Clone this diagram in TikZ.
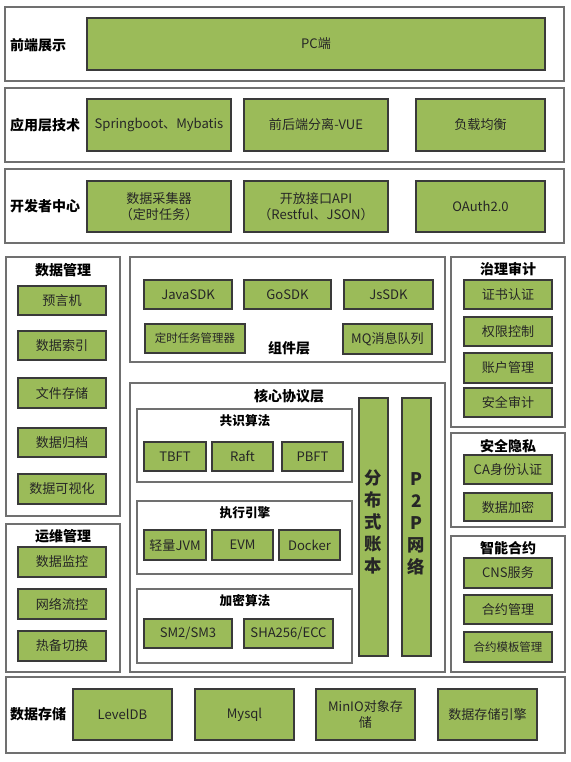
\documentclass[tikz,border=0pt]{standalone}
\usepackage{fontspec}
\setmainfont{Noto Sans CJK SC}
\definecolor{boxgreen}{HTML}{9BBB59}
\definecolor{framegray}{HTML}{707070}
\definecolor{boxline}{HTML}{3A3A3A}
\definecolor{txt}{HTML}{262626}
\newcommand{\gbx}[6]{\node[gbox,minimum width={(#4-#2)*0.75pt},minimum height={(#5-#3)*0.75pt}] (#1) at ({(#2+#4)/2},{(#3+#5)/2}) {#6};}
\newcommand{\frm}[5]{\node[frbox,minimum width={(#4-#2)*0.75pt},minimum height={(#5-#3)*0.75pt}] (#1) at ({(#2+#4)/2},{(#3+#5)/2}) {};}
\begin{document}
\begin{tikzpicture}[x=0.75pt,y=-0.75pt,
  gbox/.style={draw=boxline,fill=boxgreen,line width=0.8pt,inner sep=1pt,align=center,text=txt,font=\fontsize{9.8}{12}\selectfont},
  frbox/.style={draw=framegray,fill=white,line width=1pt,inner sep=0pt},
  ttl/.style={font=\fontsize{10.5}{12}\selectfont\bfseries,inner sep=0pt,text=black},
  vtxt/.style={font=\fontsize{13}{16.5}\selectfont\bfseries,align=center,text=txt,inner sep=0pt}]
\useasboundingbox (0,0) rectangle (570,762);
% top three rows
\frm{f1}{5}{7}{564}{81}
\node[ttl] (t1) at (38,45) {前端展示};
\gbx{pc}{87}{18}{545}{70}{PC端}
\frm{f2}{5}{88}{564}{162}
\node[ttl] (t2) at (45,125) {应用层技术};
\gbx{sb}{87}{99}{231}{151}{Springboot、Mybatis}
\gbx{vue}{244}{99}{388}{151}{前后端分离-VUE}
\gbx{lb}{416}{99}{545}{151}{负载均衡}
\frm{f3}{5}{169}{564}{243}
\node[ttl] (t3) at (45,206) {开发者中心};
\gbx{dc}{87}{181}{231}{232}{数据采集器\\（定时任务）}
\gbx{api}{244}{181}{388}{232}{开放接口API\\（Restful、JSON）}
\gbx{oa}{416}{181}{545}{232}{OAuth2.0}
% data management
\frm{dm}{6}{257}{120}{516}
\node[ttl] (tdm) at (63,270) {数据管理};
\gbx{d1}{18}{286}{106}{315}{预言机}
\gbx{d2}{18}{331}{106}{360}{数据索引}
\gbx{d3}{18}{378}{106}{408}{文件存储}
\gbx{d4}{18}{428}{106}{457}{数据归档}
\gbx{d5}{18}{474}{106}{504}{数据可视化}
% ops
\frm{om}{6}{524}{120}{672}
\node[ttl] (tom) at (63,536) {运维管理};
\gbx{o1}{18}{547}{106}{577}{数据监控}
\gbx{o2}{18}{589}{106}{619}{网络流控}
\gbx{o3}{18}{631}{106}{661}{热备切换}
% component layer
\frm{cl}{130}{257}{445}{362}
\gbx{c1}{144}{280}{232}{309}{JavaSDK}
\gbx{c2}{244}{280}{331}{309}{GoSDK}
\gbx{c3}{344}{280}{433}{309}{JsSDK}
\gbx{c4}{145}{324}{245}{353}{\fontsize{8.6}{10}\selectfont 定时任务管理器}
\gbx{c5}{343}{324}{432}{354}{MQ消息队列}
\node[ttl] (tcl) at (289,348) {组件层};
% core protocol layer
\frm{cp}{130}{383}{445}{672}
\node[ttl] (tcp) at (289,396) {核心协议层};
\frm{cs}{137}{409}{352}{482}
\node[ttl,font=\fontsize{9.5}{11}\selectfont\bfseries] (tcs) at (245,421) {共识算法};
\gbx{k1}{144}{442}{206}{471}{TBFT}
\gbx{k2}{212}{442}{273}{471}{Raft}
\gbx{k3}{282}{442}{343}{471}{PBFT}
\frm{ex}{137}{501}{352}{574}
\node[ttl,font=\fontsize{9.5}{11}\selectfont\bfseries] (tex) at (245,513) {执行引擎};
\gbx{e1}{144}{530}{206}{560}{轻量JVM}
\gbx{e2}{212}{530}{273}{560}{EVM}
\gbx{e3}{279}{530}{340}{560}{Docker}
\frm{cr}{137}{589}{352}{663}
\node[ttl,font=\fontsize{9.5}{11}\selectfont\bfseries] (tcr) at (245,601) {加密算法};
\gbx{r1}{144}{619}{232}{648}{SM2/SM3}
\gbx{r2}{244}{619}{333}{648}{SHA256/ECC}
\gbx{lg}{359}{398}{388}{656}{}
\node[vtxt] (lgt) at (373.5,522) {分\\布\\式\\账\\本};
\gbx{pp}{402}{398}{431}{656}{}
\node[vtxt] (ppt) at (416.5,524) {P\\2\\P\\网\\络};
% governance
\frm{ga}{451}{257}{565}{427}
\node[ttl] (tga) at (508,269) {治理审计};
\gbx{g1}{464}{280}{552}{309}{证书认证}
\gbx{g2}{464}{317}{552}{346}{权限控制}
\gbx{g3}{464}{353}{552}{383}{账户管理}
\gbx{g4}{464}{388}{552}{417}{安全审计}
% security
\frm{sp}{451}{433}{565}{527}
\node[ttl] (tsp) at (508,446) {安全隐私};
\gbx{s1}{464}{455}{552}{484}{CA身份认证}
\gbx{s2}{464}{493}{552}{521}{数据加密}
% contracts
\frm{sc}{451}{536}{565}{672}
\node[ttl] (tsc) at (508,548) {智能合约};
\gbx{m1}{464}{558}{552}{588}{CNS服务}
\gbx{m2}{464}{595}{552}{624}{合约管理}
\gbx{m3}{464}{632}{552}{662}{\fontsize{8.6}{10}\selectfont 合约模板管理}
% storage
\frm{ds}{6}{677}{565}{753}
\node[ttl] (tds) at (38,714) {数据存储};
\gbx{b1}{73}{689}{172}{740}{LevelDB}
\gbx{b2}{195}{689}{294}{740}{Mysql}
\gbx{b3}{316}{689}{415}{740}{MinIO对象存\\储}
\gbx{b4}{438}{689}{537}{740}{数据存储引擎}
\end{tikzpicture}
\end{document}
